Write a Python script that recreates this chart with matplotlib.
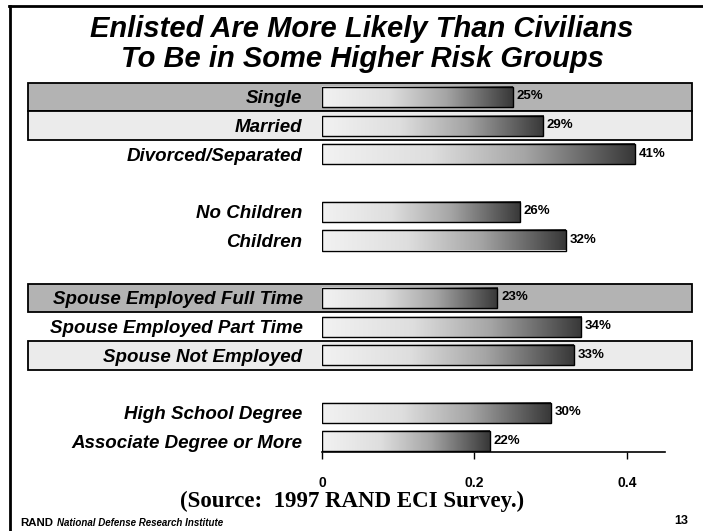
import matplotlib.pyplot as plt
from matplotlib.colors import LinearSegmentedColormap
from matplotlib.patches import Rectangle
from matplotlib.transforms import blended_transform_factory
import numpy as np

# rows of the chart, blank rows leave the gaps between groups
categories = ["Single", "Married", "Divorced/Separated",
              "No Children", "Children",
              "Spouse Employed Full Time", "Spouse Employed Part Time", "Spouse Not Employed",
              "High School Degree", "Associate Degree or More"]
rows = [0, 1, 2, 4, 5, 7, 8, 9, 11, 12]
values = [0.25, 0.29, 0.41, 0.26, 0.32, 0.23, 0.34, 0.33, 0.30, 0.22]
value_labels = ["25%", "29%", "41%", "26%", "32%", "23%", "34%", "33%", "30%", "22%"]

# shaded bands behind some rows: (row, colour)
bands = [(0, "#b3b3b3"), (1, "#ebebeb"), (7, "#b3b3b3"), (9, "#ebebeb")]

W, H = 703, 531
fig = plt.figure(figsize=(W / 100, H / 100), dpi=100)
ax = fig.add_axes([322 / W, 1 - 452 / H, (665 - 322) / W, (452 - 80) / H])
ax.set_zorder(2)

fig_y = blended_transform_factory(fig.transFigure, ax.transData)

# background bands spanning the labels and bars
for r, col in bands:
    fig.patches.append(Rectangle((28 / W, r - 0.5), (692 - 28) / W, 1.0,
                                 transform=fig_y, facecolor=col, edgecolor="black",
                                 lw=1.3, zorder=0))

# gradient bars
cmap = LinearSegmentedColormap.from_list(
    "shade", [(0, "#f2f2f2"), (0.35, "#dedede"), (0.65, "#a5a5a5"), (1, "#383838")])
grad = np.linspace(0, 1, 256).reshape(1, -1)
bh = 0.7
for r, v, lab in zip(rows, values, value_labels):
    ax.imshow(grad, cmap=cmap, aspect="auto", extent=(0, v, r + bh / 2, r - bh / 2),
              interpolation="bilinear", zorder=2)
    ax.add_patch(Rectangle((0, r - bh / 2), v, bh, fill=False, edgecolor="black", lw=1.0, zorder=3))
    ax.text(v + 0.005, r - 0.02, lab, fontsize=9.5, fontweight="bold",
            family="Liberation Sans", va="center", ha="left")
ax.set_xlim(0, 0.45)
ax.set_ylim(12.37, -0.59)

ax.set_yticks(rows)
ax.set_yticklabels(categories, fontsize=13.5, fontweight="bold", fontstyle="italic",
                   family="Liberation Sans")
ax.tick_params(axis="y", length=0, pad=14)

ax.set_xticks([0, 0.2, 0.4])
ax.set_xticklabels(["0", "0.2", "0.4"], fontsize=10, fontweight="bold", family="Liberation Sans")
ax.tick_params(axis="x", length=5, width=1, pad=12)
for s in ["top", "right", "left"]:
    ax.spines[s].set_visible(False)
ax.spines["bottom"].set_linewidth(1.2)
ax.patch.set_alpha(0)

# slide frame lines
fig.add_artist(plt.Line2D([10 / W, 10 / W], [0, 1 - 6 / H], color="black", lw=2))
fig.add_artist(plt.Line2D([9 / W, 1], [1 - 6 / H, 1 - 6 / H], color="black", lw=2))

fig.text(362 / W, 1 - 37 / H, "Enlisted Are More Likely Than Civilians", ha="center", va="baseline",
         fontsize=21, fontweight="bold", fontstyle="italic", family="Liberation Sans")
fig.text(362 / W, 1 - 67 / H, "To Be in Some Higher Risk Groups", ha="center", va="baseline",
         fontsize=21, fontweight="bold", fontstyle="italic", family="Liberation Sans")

fig.text(352 / W, 1 - 507 / H, "(Source:  1997 RAND ECI Survey.)", ha="center", va="baseline",
         fontsize=16.5, fontweight="bold", family="Liberation Serif")

fig.text(20 / W, 1 - 523 / H, "RAND", ha="left", va="center", fontsize=8.2, fontweight="bold",
         family="Liberation Sans")
fig.text(57 / W, 1 - 523 / H, "National Defense Research Institute", ha="left", va="center",
         fontsize=7, fontweight="bold", fontstyle="italic", family="Liberation Sans")
fig.text(688 / W, 1 - 521 / H, "13", ha="right", va="center", fontsize=9, fontweight="bold",
         family="Liberation Sans")

plt.savefig("out.png", dpi=100)
